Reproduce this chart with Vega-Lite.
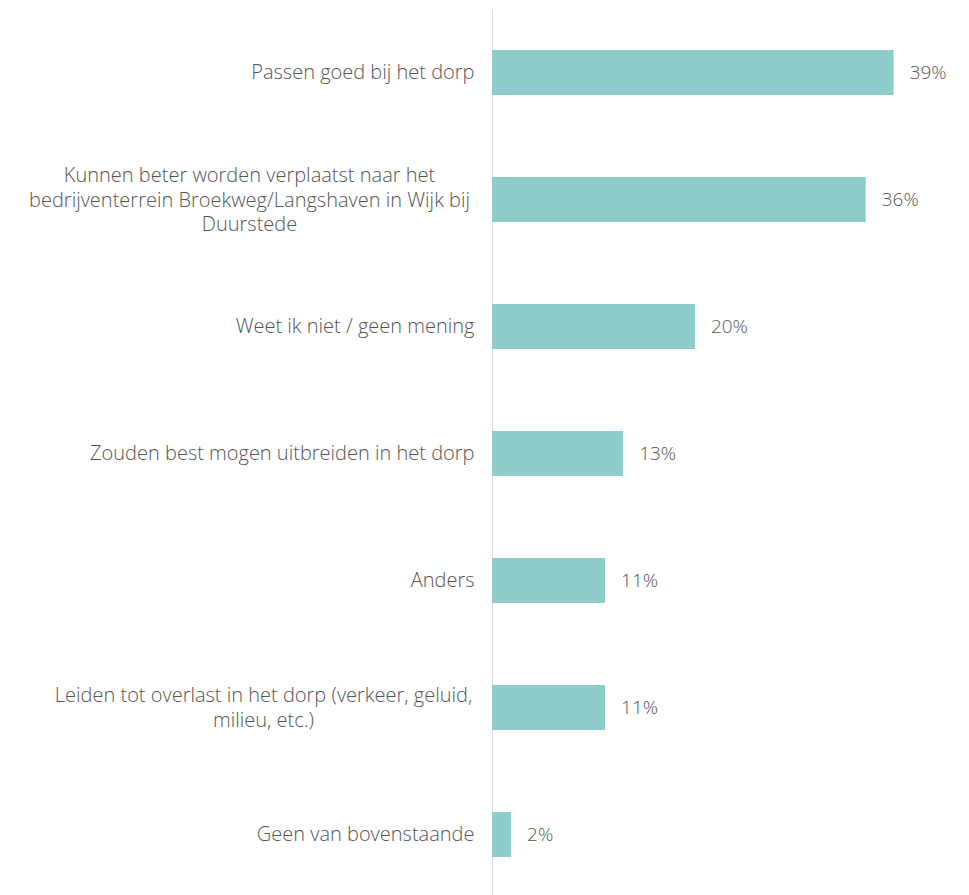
{
  "$schema": "https://vega.github.io/schema/vega-lite/v6.json",
  "width": 413,
  "height": 889,
  "autosize": "none",
  "padding": {"left": 492, "top": 9, "right": 64, "bottom": 0},
  "background": "white",
  "config": {
    "view": {"stroke": null},
    "font": "Open Sans",
    "text": {"font": "Open Sans"}
  },
  "data": {
    "values": [
      {"antwoord": "Passen goed bij het dorp", "aandeel": 0.389},
      {"antwoord": "Kunnen beter worden verplaatst naar het bedrijventerrein Broekweg/Langshaven in Wijk bij Duurstede", "aandeel": 0.362},
      {"antwoord": "Weet ik niet / geen mening", "aandeel": 0.1965},
      {"antwoord": "Zouden best mogen uitbreiden in het dorp", "aandeel": 0.127},
      {"antwoord": "Anders", "aandeel": 0.1095},
      {"antwoord": "Leiden tot overlast in het dorp (verkeer, geluid, milieu, etc.)", "aandeel": 0.1095},
      {"antwoord": "Geen van bovenstaande", "aandeel": 0.0185}
    ]
  },
  "encoding": {
    "y": {
      "field": "antwoord",
      "type": "nominal",
      "sort": null,
      "scale": {"paddingInner": 0.646, "paddingOuter": 0.323},
      "axis": {
        "title": null,
        "ticks": false,
        "domain": true,
        "domainColor": "#dddddd",
        "domainWidth": 1,
        "labelFont": "Open Sans",
        "labelFontSize": 20,
        "labelFontWeight": 300,
        "labelColor": "#555555",
        "labelLimit": 600,
        "labelLineHeight": 24.5,
        "labelPadding": {
          "condition": [
            {"test": "datum.value == 'Kunnen beter worden verplaatst naar het bedrijventerrein Broekweg/Langshaven in Wijk bij Duurstede'", "value": 243},
            {"test": "datum.value == 'Leiden tot overlast in het dorp (verkeer, geluid, milieu, etc.)'", "value": 229}
          ],
          "value": 18
        },
        "labelAlign": {
          "condition": {"test": "datum.value == 'Kunnen beter worden verplaatst naar het bedrijventerrein Broekweg/Langshaven in Wijk bij Duurstede' || datum.value == 'Leiden tot overlast in het dorp (verkeer, geluid, milieu, etc.)'", "value": "center"},
          "value": "right"
        },
        "labelOffset": {
          "condition": [
            {"test": "datum.value == 'Kunnen beter worden verplaatst naar het bedrijventerrein Broekweg/Langshaven in Wijk bij Duurstede'", "value": -23.5},
            {"test": "datum.value == 'Leiden tot overlast in het dorp (verkeer, geluid, milieu, etc.)'", "value": -11.5}
          ],
          "value": 0
        },
        "labelExpr": "datum.label == 'Kunnen beter worden verplaatst naar het bedrijventerrein Broekweg/Langshaven in Wijk bij Duurstede' ? ['Kunnen beter worden verplaatst naar het', 'bedrijventerrein Broekweg/Langshaven in Wijk bij', 'Duurstede'] : datum.label == 'Leiden tot overlast in het dorp (verkeer, geluid, milieu, etc.)' ? ['Leiden tot overlast in het dorp (verkeer, geluid,', 'milieu, etc.)'] : datum.label"
      }
    }
  },
  "layer": [
    {
      "mark": {"type": "bar", "color": "#8ecdca"},
      "encoding": {
        "x": {
          "field": "aandeel",
          "type": "quantitative",
          "scale": {"domain": [0, 0.4], "nice": false},
          "axis": null
        }
      }
    },
    {
      "mark": {"type": "text", "align": "left", "baseline": "middle", "dx": 16, "fontSize": 19, "fontWeight": 300, "color": "#555555", "font": "Open Sans"},
      "encoding": {
        "x": {"field": "aandeel", "type": "quantitative"},
        "text": {"field": "aandeel", "type": "quantitative", "format": ".0%"}
      }
    }
  ]
}
